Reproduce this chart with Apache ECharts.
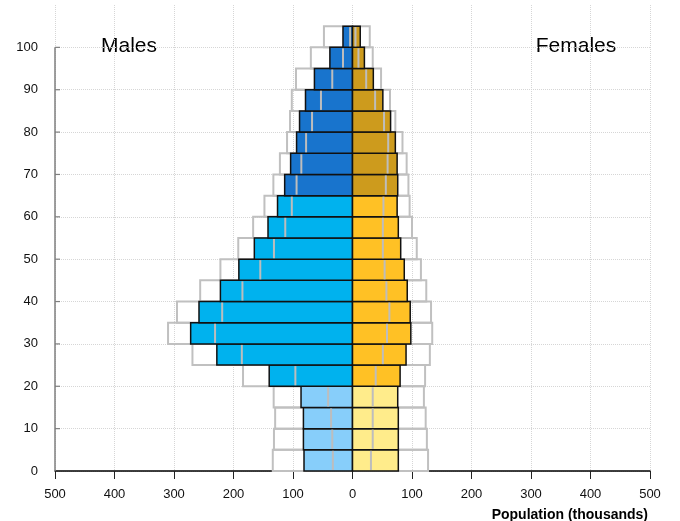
<!DOCTYPE html>
<html>
<head>
<meta charset="utf-8">
<script src="https://cdn.jsdelivr.net/npm/echarts@6/dist/echarts.min.js"></script>
<style>html,body{margin:0;padding:0;background:#fff;}#c{width:680px;height:521px;}</style>
</head>
<body>
<div id="c"></div>
<script>
// Age groups (lower bound of each 5-year band; last is 100+)
const ages = [0,5,10,15,20,25,30,35,40,45,50,55,60,65,70,75,80,85,90,95,100];
// Males (thousands) - current (filled bars)
const malePop   = [81.5,82.5,82.5,86.5,140,228,272,258,222,191,165,142,126,114,104,94,89,79,64,38,16];
// Males - comparison (grey outline bars)
const malePrev  = [134,132,130,132.5,184,269,310,295,256,222,192,167,148,133,122,110,105,102,95,70,48];
// Males - inner grey marker
const maleMark  = [33,34,36,41,96,186,231,219,185,155,132,113,102,94,86,78,68,53,34,16,4];
// Females (thousands) - current
const femalePop  = [77,77,77,76,80,90,98,97,92,87,81,77,75,76,75,72,64,51,35,20,13];
// Females - comparison
const femalePrev = [127,125,123,120,122,130,134,132,124,115,108,100,96,94,91,84,72,63,48,34,29];
// Females - inner grey marker
const femaleMark = [31,34,34,34,39,51,58,62,57,54,51,51,52,56,59,60,53,38,23,10,5];
// Axis ticks
const yTicks = [0,10,20,30,40,50,60,70,80,90,100];
const xTicks = [-500,-400,-300,-200,-100,0,100,200,300,400,500];
const bandWidth = 5;

const maleColors = ['#87CEFA','#00B2EE','#1874CD'];
const femaleColors = ['#FFEC8B','#FFC125','#CD9B1D'];
function band(a){ return a < 20 ? 0 : (a < 65 ? 1 : 2); }

function rectSeries(values, sign, colors, outline, z){
  return {
    type:'custom', z:z, silent:true,
    encode:{x:1, y:0},
    data: ages.map((a,i)=>[a, sign*values[i], band(a)]),
    renderItem: function(params, api){
      const a = api.value(0), v = api.value(1), b = api.value(2);
      const p0 = api.coord([0, a]);
      const p1 = api.coord([v, a + bandWidth]);
      const x = Math.min(p0[0], p1[0]);
      const w = Math.abs(p1[0] - p0[0]);
      return {
        type:'rect',
        shape:{x:x, y:p1[1], width:w, height:p0[1]-p1[1]},
        style: outline ? {fill:null, stroke:'#c0c0c0', lineWidth:2}
                       : {fill:colors[b], stroke:'#111', lineWidth:1.5}
      };
    }
  };
}
function markSeries(values, sign, z){
  return {
    type:'custom', z:z, silent:true,
    encode:{x:1, y:0},
    data: ages.map((a,i)=>[a, sign*values[i]]),
    renderItem: function(params, api){
      const a = api.value(0), v = api.value(1);
      const p0 = api.coord([v, a]);
      const p1 = api.coord([v, a + bandWidth]);
      return {
        type:'line',
        shape:{x1:p0[0], y1:p0[1]-1, x2:p1[0], y2:p1[1]+1},
        style:{stroke:'#bdbdbd', lineWidth:2}
      };
    }
  };
}
// y-axis line (0..100) with inward ticks
const yAxisDeco = {
  type:'custom', z:6, silent:true,
  encode:{x:0, y:1},
  data:[[xTicks[0], 0]],
  renderItem: function(params, api){
    const xmin = xTicks[0];
    const top = api.coord([xmin, yTicks[yTicks.length-1]]);
    const bot = api.coord([xmin, yTicks[0]]);
    const children = [{
      type:'line', shape:{x1:top[0], y1:top[1], x2:bot[0], y2:bot[1]},
      style:{stroke:'#7f7f7f', lineWidth:1.5}
    }];
    yTicks.forEach(t=>{
      if (t === 0) return;
      const p = api.coord([xmin, t]);
      children.push({type:'line', shape:{x1:p[0], y1:p[1], x2:p[0]+5, y2:p[1]},
        style:{stroke:'#7f7f7f', lineWidth:1.2}});
    });
    return {type:'group', children:children};
  }
};

const gridColors = yTicks.map(()=>'#d6d6d6').concat(['rgba(0,0,0,0)']);

const chart = echarts.init(document.getElementById('c'), null, {renderer:'canvas'});
chart.setOption({
  animation:false,
  backgroundColor:'#ffffff',
  textStyle:{fontFamily:'Liberation Sans, Arial, sans-serif'},
  grid:{left:55, right:30, top:5, bottom:50, containLabel:false},
  xAxis:{
    type:'value', min:xTicks[0], max:xTicks[xTicks.length-1], interval:100,
    axisLine:{show:true, onZero:false, lineStyle:{color:'#000', width:1.5}},
    axisTick:{show:true, length:8, lineStyle:{color:'#222', width:1}},
    axisLabel:{formatter:v=>String(Math.abs(v)), margin:17, fontSize:13, color:'#111', fontFamily:'Liberation Sans'},
    splitLine:{show:true, lineStyle:{color:'#d6d6d6', type:'dotted', width:1}}
  },
  yAxis:{
    type:'value', min:0, max:110, interval:10,
    axisLine:{show:false}, axisTick:{show:false},
    axisLabel:{formatter:v=> (v <= yTicks[yTicks.length-1] ? String(v) : ''), margin:17, fontSize:13, color:'#111', fontFamily:'Liberation Sans'},
    splitLine:{show:true, lineStyle:{color:gridColors, type:'dotted', width:1}}
  },
  title:{
    text:'Population (thousands)', right:27, top:503,
    textStyle:{fontSize:14, fontWeight:'bold', color:'#000', fontFamily:'Liberation Sans'}
  },
  graphic:[
    {type:'text', x:129, y:46, style:{text:'Males', font:'21px "Liberation Sans", Arial', fill:'#000', textAlign:'center', textVerticalAlign:'middle'}},
    {type:'text', x:576, y:46, style:{text:'Females', font:'21px "Liberation Sans", Arial', fill:'#000', textAlign:'center', textVerticalAlign:'middle'}}
  ],
  series:[
    rectSeries(malePrev, -1, maleColors, true, 2),
    rectSeries(femalePrev, 1, femaleColors, true, 2),
    rectSeries(malePop, -1, maleColors, false, 3),
    rectSeries(femalePop, 1, femaleColors, false, 3),
    markSeries(maleMark, -1, 4),
    markSeries(femaleMark, 1, 4),
    yAxisDeco
  ]
});
</script>
</body>
</html>
